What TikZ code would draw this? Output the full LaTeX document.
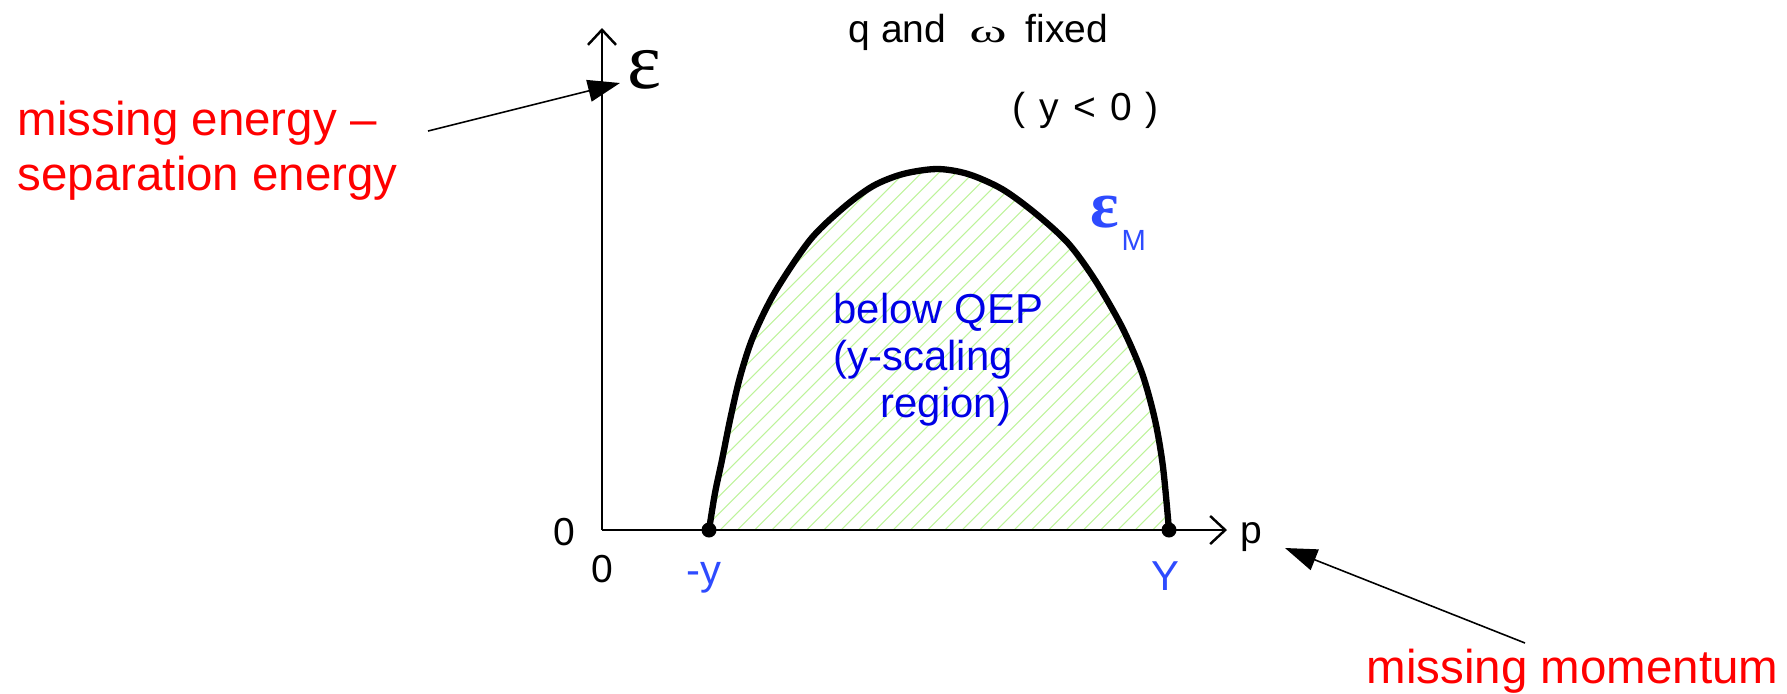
\documentclass[tikz,border=0pt]{standalone}
\usepackage{graphicx}
\usepackage{fontspec}
\setmainfont{Liberation Sans}
\newfontfamily\grk{Liberation Serif}
\usetikzlibrary{arrows.meta}
\definecolor{mred}{HTML}{FF0000}
\definecolor{qblue}{HTML}{0000E6}
\definecolor{lblue}{HTML}{2E4BFF}
\definecolor{hatchgreen}{HTML}{BDF39A}

\begin{document}
\begin{tikzpicture}[x=0.01cm, y=-0.01cm,
      axis/.style={line width=0.7pt, -{Straight Barb[length=1.5mm,width=2.8mm]}},
      pointer/.style={line width=0.45pt, -{Triangle[length=3.2mm,width=2.2mm]}},
      bound/.style={line width=1.8pt, line join=round},
      hatch/.style={draw=hatchgreen, line width=0.3pt},
      dot/.style={circle, fill=black, inner sep=0pt, minimum size=0.15cm},
      redtxt/.style={anchor=base west, inner sep=0pt, text=mred, font=\fontsize{13.5}{16}\selectfont},
      blacktxt/.style={anchor=base west, inner sep=0pt, font=\fontsize{11.1}{13}\selectfont},
      bluetxt/.style={anchor=base west, inner sep=0pt, text=qblue, font=\fontsize{11.9}{14}\selectfont},
      marktxt/.style={anchor=base west, inner sep=0pt, text=lblue, font=\fontsize{11.9}{14}\selectfont}]

    \useasboundingbox (0,0) rectangle (1787,693);

    \begin{scope}
      \clip plot[smooth] coordinates {(709,530) (715,493) (722,460) (730,420) (740,377) (753,337)
        (775,292) (810,240) (843,208) (873,186) (903,174) (937,169) (968,174) (1002,189)
        (1035,213) (1068,243) (1095,280) (1122,327) (1142,373) (1155,420) (1163,467) (1169,530)} -- cycle;
      \foreach \k in {-13,...,27}
        \draw[hatch] ({710+17.3*\k},540) -- ++(420,-420);
    \end{scope}

    \coordinate (o) at (602,530);
    \coordinate (etop) at (602,28);
    \coordinate (pend) at (1227,530);
    \draw[axis] (o) -- (etop);
    \draw[axis] (o) -- (pend);

    \draw[bound] plot[smooth] coordinates {(709,530) (715,493) (722,460) (730,420) (740,377) (753,337)
        (775,292) (810,240) (843,208) (873,186) (903,174) (937,169) (968,174) (1002,189)
        (1035,213) (1068,243) (1095,280) (1122,327) (1142,373) (1155,420) (1163,467) (1169,530)};
    \node[dot] (pmin) at (709,530) {};
    \node[dot] (pmax) at (1169,530) {};

    \node[inner sep=0pt, font=\grk\fontsize{23}{26}\selectfont] (eps) at (644,70) {ε};
    \node[inner sep=0pt, text=lblue, font=\grk\bfseries\fontsize{19}{22}\selectfont] (epsM) at (1105,212) {ε};
    \node[marktxt, font=\fontsize{8.3}{10}\selectfont] (epsMsub) at (1121,250) {M};

    \node[blacktxt] (fix) at (848,42) {q and\hspace{0.23cm}\scalebox{1.9}[1.1]{\grk\fontsize{8.5}{9}\selectfont ω}\hspace{0.19cm}fixed};
    \node[blacktxt] (cond) at (1012,120) {(\hspace{0.14cm}y\hspace{0.14cm}<\hspace{0.14cm}0\hspace{0.14cm})};
    \node[blacktxt] (zeroe) at (553,545) {0};
    \node[blacktxt] (zerop) at (591,582) {0};
    \node[blacktxt] (plbl) at (1240,543) {p};
    \node[marktxt] (ylo) at (686,584) {-y};
    \node[marktxt] (yhi) at (1151,590) {Y};

    \node[bluetxt] (qep1) at (833,323) {below QEP};
    \node[bluetxt] (qep2) at (833,370) {(y-scaling};
    \node[bluetxt] (qep3) at (880,417) {region)};

    \node[redtxt] (mis1) at (17,135) {missing energy –};
    \node[redtxt] (mis2) at (17,190) {separation energy};
    \node[redtxt] (mom) at (1366,683) {missing momentum};

    \coordinate (enfrom) at (428,131);
    \coordinate (ento) at (620,83);
    \draw[pointer] (enfrom) -- (ento);
    \coordinate (momfrom) at (1525,643);
    \coordinate (momto) at (1285,548);
    \draw[pointer] (momfrom) -- (momto);
  \end{tikzpicture}
\end{document}
